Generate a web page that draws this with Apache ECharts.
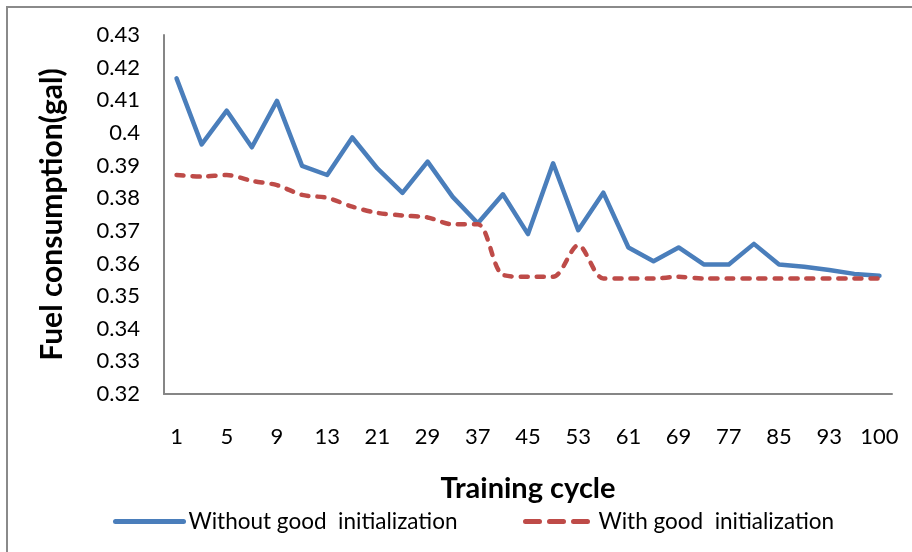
<!DOCTYPE html>
<html>
<head>
<meta charset="utf-8">
<script src="https://cdn.jsdelivr.net/npm/echarts@6/dist/echarts.min.js"></script>
<style>
html,body{margin:0;padding:0;background:#fff;}
#chart{width:912px;height:552px;}
</style>
</head>
<body>
<div id="chart"></div>
<script>
const categories = ['1','3','5','7','9','11','13','17','21','25','29','33','37','41','45','49','53','57','61','65','69','73','77','81','85','89','93','97','100'];
const withoutInit = [0.4167,0.3965,0.4068,0.3956,0.4098,0.3899,0.3871,0.3986,0.3891,0.3816,0.3912,0.3804,0.3723,0.3812,0.3690,0.3907,0.3702,0.3817,0.3649,0.3607,0.3649,0.3597,0.3597,0.3660,0.3597,0.3590,0.3580,0.3568,0.3562];
const withInit = [0.3871,0.3866,0.3871,0.3853,0.3840,0.3810,0.3801,0.3774,0.3755,0.3747,0.3741,0.3720,0.3720,0.3565,0.3559,0.3559,0.3656,0.3554,0.3554,0.3554,0.3559,0.3554,0.3554,0.3554,0.3554,0.3554,0.3554,0.3554,0.3554];
const yMin = 0.32, yMax = 0.43, yStep = 0.01;
const seriesNames = ['Without good  initialization', 'With good  initialization'];

const FONT = 'Lato';
const BLUE = '#4A7EBB', RED = '#BE4B48';
const legendBase = {
  top: 505, itemWidth: 68, itemHeight: 22, itemGap: 10,
  itemStyle: {opacity: 0},
  textStyle: {fontFamily: FONT, fontSize: 22.5, color: '#000'}
};
const chart = echarts.init(document.getElementById('chart'), null, {renderer: 'canvas'});
chart.setOption({
  animation: false,
  backgroundColor: '#ffffff',
  graphic: [{
    type: 'rect', shape: {x: 7, y: 7, width: 1200, height: 1200},
    style: {fill: 'none', stroke: '#8a8a8a', lineWidth: 2}, z: -1
  }],
  grid: {left: 164, top: 35, right: 20, bottom: 158, containLabel: false},
  legend: [
    Object.assign({data: [seriesNames[0]], left: 108,
      lineStyle: {width: 5, color: BLUE, cap: 'round'}}, legendBase),
    Object.assign({data: [seriesNames[1]], left: 518,
      lineStyle: {width: 5, color: RED, type: [14, 10], cap: 'round'}}, legendBase)
  ],
  xAxis: {
    type: 'category', data: categories, boundaryGap: true,
    name: 'Training cycle', nameLocation: 'middle', nameGap: 80,
    nameTextStyle: {fontFamily: FONT, fontSize: 29, fontWeight: 'bold', color: '#000'},
    axisLine: {lineStyle: {color: '#868686', width: 2}},
    axisTick: {show: false},
    axisLabel: {interval: 1, margin: 32, fontFamily: FONT, fontSize: 22, color: '#000'},
    splitLine: {show: false}
  },
  yAxis: {
    type: 'value', min: yMin, max: yMax, interval: yStep,
    name: 'Fuel consumption(gal)', nameLocation: 'middle', nameGap: 97,
    nameTextStyle: {fontFamily: FONT, fontSize: 30, fontWeight: 'bold', color: '#000'},
    axisLine: {show: true, lineStyle: {color: '#868686', width: 2}},
    axisTick: {show: false},
    axisLabel: {margin: 24, fontFamily: FONT, fontSize: 22, color: '#000',
      formatter: v => String(parseFloat(v.toFixed(2)))},
    splitLine: {show: false}
  },
  series: [
    {name: seriesNames[0], type: 'line', data: withoutInit, symbol: 'none', showSymbol: false,
     lineStyle: {color: BLUE, width: 4.5, join: 'round', cap: 'round'}, itemStyle: {color: BLUE}},
    {name: seriesNames[1], type: 'line', data: withInit, symbol: 'none', showSymbol: false, smooth: 0.3,
     lineStyle: {color: RED, width: 4.5, type: [7, 9], cap: 'round', join: 'round'}, itemStyle: {color: RED}}
  ]
});
</script>
</body>
</html>
